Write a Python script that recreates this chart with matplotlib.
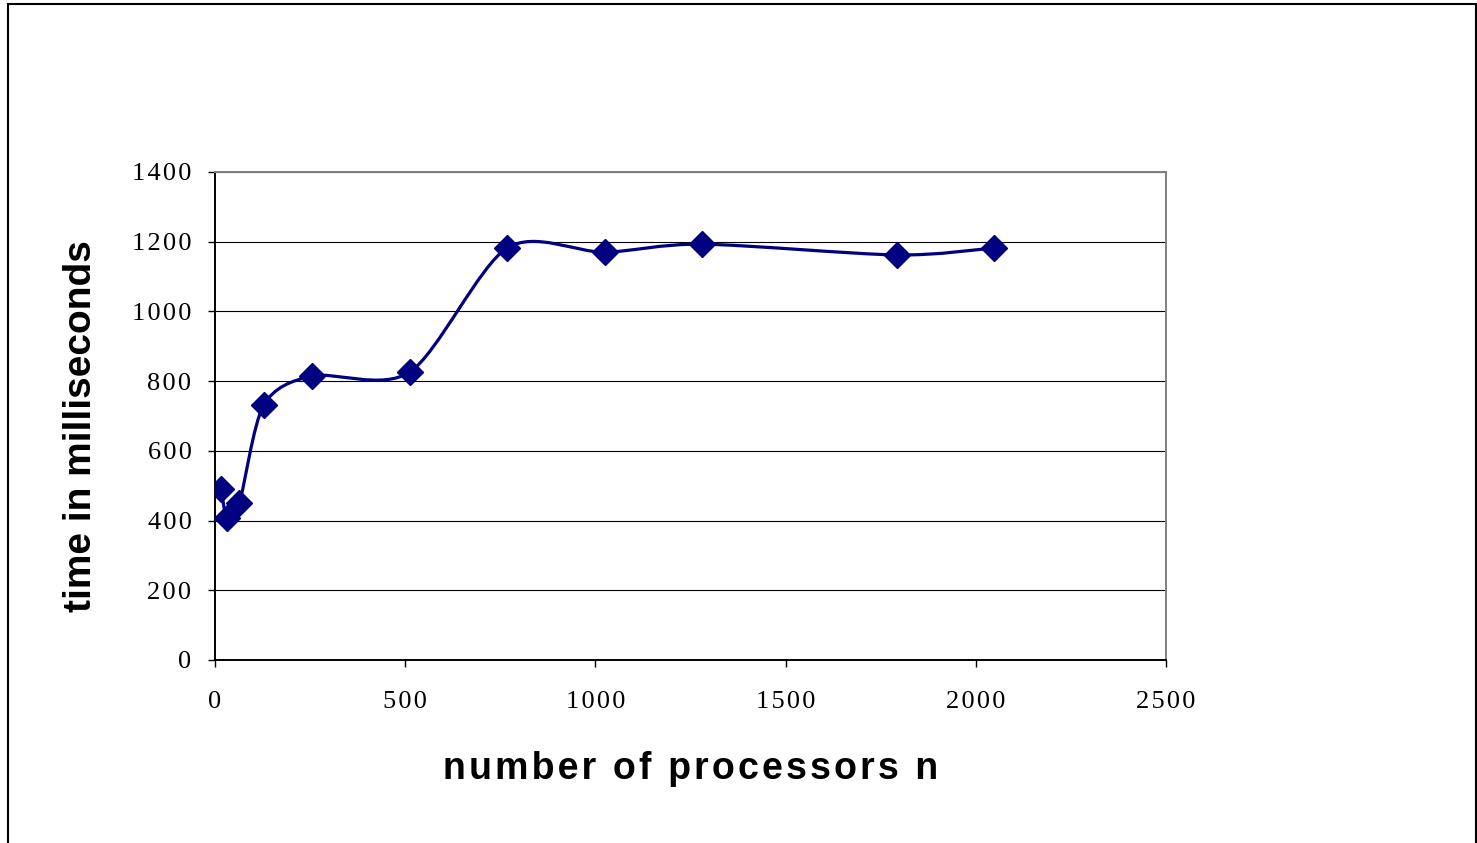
import matplotlib
matplotlib.use("Agg")
import matplotlib.pyplot as plt
from matplotlib.path import Path
from matplotlib.patches import PathPatch, Rectangle
import numpy as np

# Measured run times versus processor count
processors = [16, 32, 64, 128, 256, 512, 768, 1024, 1280, 1792, 2048]
time_ms = [490, 407, 450, 731, 815, 826, 1182, 1170, 1193, 1162, 1182]

x_ticks = [0, 500, 1000, 1500, 2000, 2500]
y_ticks = [0, 200, 400, 600, 800, 1000, 1200, 1400]

x_title = "number of processors n"
y_title = "time in milliseconds"

NAVY = "#000080"


def spaced(text, gap):
    """Widen the letter spacing of a label by inserting narrow spaces."""
    return gap.join(text)


fig = plt.figure(figsize=(14.77, 8.43), dpi=100)
ax = fig.add_axes([215 / 1477, 1 - 660 / 843, (1166 - 215) / 1477, (660 - 172) / 843])

# Smoothed connecting curve (Catmull-Rom style cubic Bezier segments)
pts = np.column_stack([processors, time_ms]).astype(float)
verts = [tuple(pts[0])]
codes = [Path.MOVETO]
n = len(pts)
for i in range(n - 1):
    p0 = pts[i - 1] if i > 0 else pts[i]
    p1 = pts[i]
    p2 = pts[i + 1]
    p3 = pts[i + 2] if i + 2 < n else pts[i + 1]
    c1 = p1 + (p2 - p0) / 7.0
    c2 = p2 - (p3 - p1) / 7.0
    verts += [tuple(c1), tuple(c2), tuple(p2)]
    codes += [Path.CURVE4] * 3
ax.add_patch(PathPatch(Path(verts, codes), facecolor="none", edgecolor=NAVY,
                       lw=2.3, zorder=3, capstyle="round", joinstyle="round"))

ax.plot(processors, time_ms, linestyle="none", marker="D", markersize=13,
        color=NAVY, markeredgecolor=NAVY, zorder=4)

ax.set_xlim(0, 2500)
ax.set_ylim(0, 1400)
ax.set_xticks(x_ticks)
ax.set_yticks(y_ticks)
ax.set_xticklabels([spaced(str(v), "\u200a") for v in x_ticks],
                   fontfamily="Liberation Serif", fontsize=19)
ax.set_yticklabels([spaced(str(v), "\u200a") for v in y_ticks],
                   fontfamily="Liberation Serif", fontsize=19)
ax.tick_params(axis="x", direction="out", length=5, width=1, pad=17)
ax.tick_params(axis="y", direction="out", length=5, width=1, pad=12)

ax.yaxis.grid(True, color="black", lw=0.8)
ax.set_axisbelow(True)
for side in ("left", "bottom"):
    ax.spines[side].set_color("black")
    ax.spines[side].set_linewidth(1.4)
for side in ("top", "right"):
    ax.spines[side].set_color("#808080")
    ax.spines[side].set_linewidth(1.4)

ax.set_xlabel(spaced(x_title, "\u200a"), fontfamily="Liberation Sans",
              fontweight="bold", fontsize=27, labelpad=28)
ax.set_ylabel(y_title, fontfamily="Liberation Sans",
              fontweight="bold", fontsize=28, labelpad=26)
ax.yaxis.set_label_coords(-0.122, 0.48)

# Outer chart frame
fig.patches.append(Rectangle((8 / 1477, -0.05), (1476 - 8) / 1477, 1.05 - 4 / 843,
                             transform=fig.transFigure, fill=False,
                             edgecolor="black", lw=1.5))

fig.savefig("out.png", dpi=100)
